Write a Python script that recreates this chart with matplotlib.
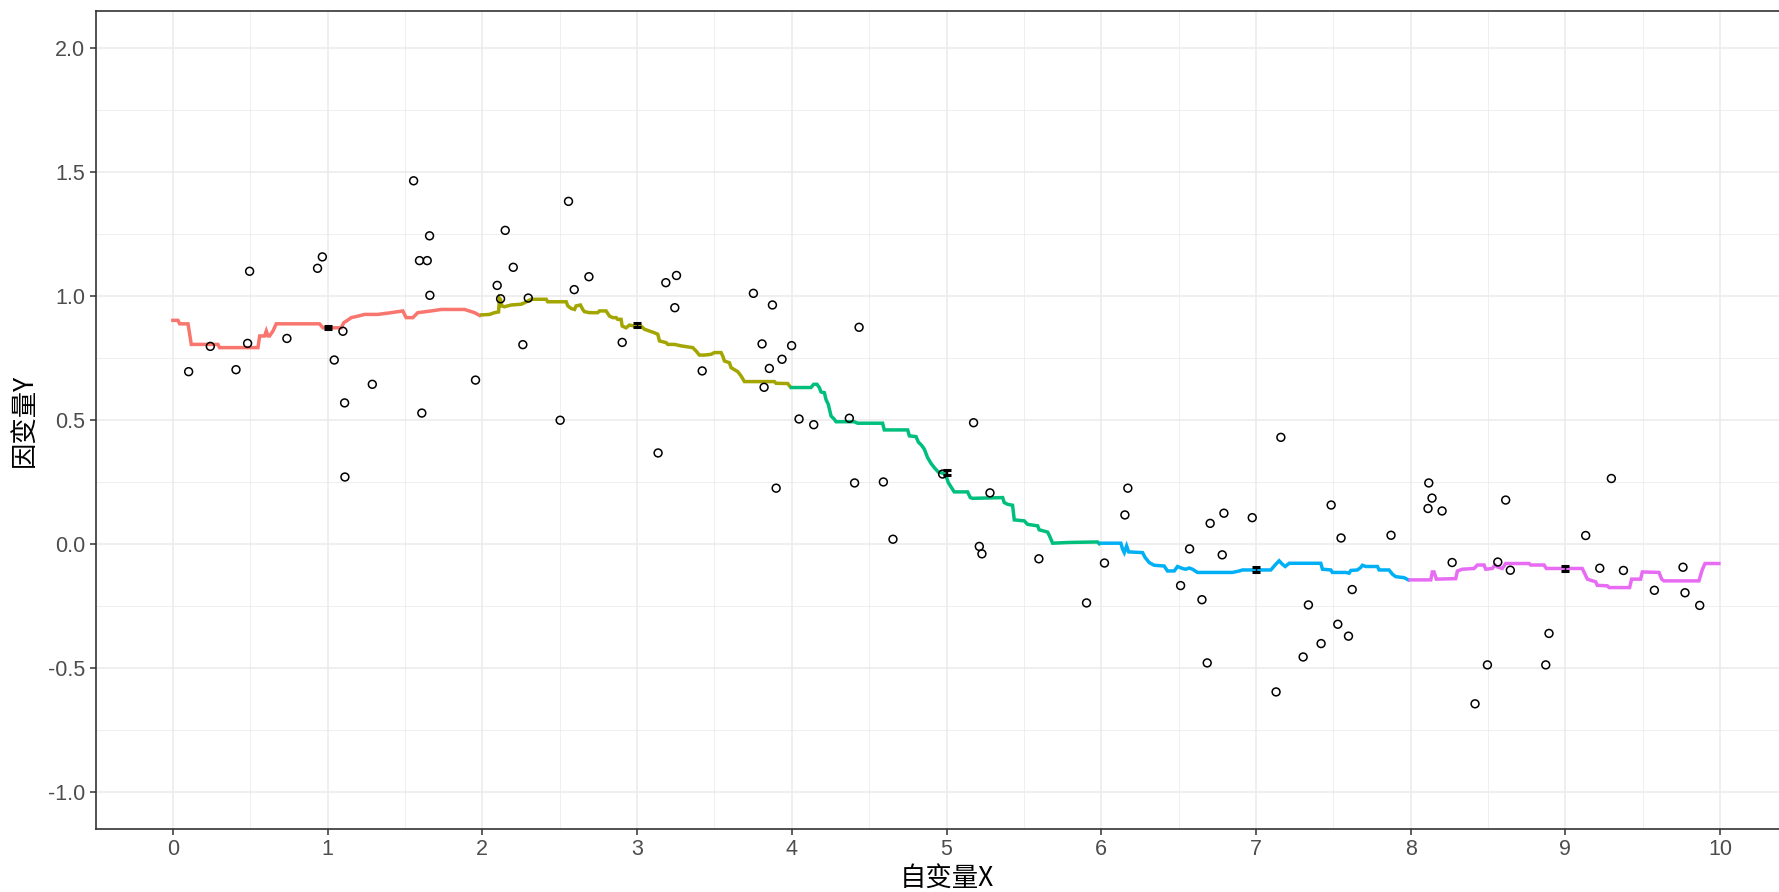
import numpy as np
import matplotlib.pyplot as plt

# ─────────────────────────────────────────────
# DATA
# ─────────────────────────────────────────────
pts_x = [0.102, 0.242, 0.408, 0.496, 0.483, 0.737, 0.935, 0.966, 1.099, 1.043,
         1.289, 1.110, 1.112, 1.609, 1.659, 1.594, 1.644, 1.661, 1.956, 1.556,
         2.148, 2.096, 2.118, 2.200, 2.297, 2.262, 2.557, 2.594, 2.689, 2.503,
         2.904, 3.136, 3.186, 3.255, 3.244, 3.421, 3.752, 3.875, 3.808, 3.855,
         3.821, 3.937, 3.999, 3.899,
         4.435, 4.047, 4.142, 4.372, 4.406, 4.592, 4.654, 5.175, 4.975, 5.281,
         5.212, 5.229, 5.597, 5.905,
         6.021, 6.172, 6.153, 6.571, 6.513, 6.651, 6.704, 6.793, 6.782, 6.976,
         7.161, 6.685, 7.130, 7.305, 7.339, 7.421, 7.486, 7.529, 7.550, 7.598,
         7.622, 7.873,
         8.117, 8.138, 8.112, 8.203, 8.268, 8.496, 8.614, 8.563, 8.644, 8.873,
         8.894, 8.416, 9.297, 9.131, 9.222, 9.375, 9.575, 9.760, 9.773, 9.868]
pts_y = [0.695, 0.797, 0.703, 1.100, 0.809, 0.829, 1.112, 1.158, 0.858, 0.742,
         0.644, 0.569, 0.270, 0.528, 1.243, 1.143, 1.143, 1.003, 0.661, 1.465,
         1.265, 1.043, 0.989, 1.116, 0.992, 0.804, 1.382, 1.026, 1.078, 0.499,
         0.813, 0.367, 1.054, 1.083, 0.953, 0.698, 1.011, 0.964, 0.807, 0.708,
         0.632, 0.745, 0.800, 0.225,
         0.874, 0.504, 0.481, 0.507, 0.246, 0.250, 0.019, 0.489, 0.282, 0.206,
         -0.010, -0.040, -0.060, -0.238,
         -0.077, 0.225, 0.117, -0.020, -0.168, -0.225, 0.083, 0.124, -0.044, 0.106,
         0.430, -0.480, -0.597, -0.456, -0.246, -0.402, 0.157, -0.324, 0.024, -0.372,
         -0.184, 0.035,
         0.246, 0.185, 0.143, 0.133, -0.075, -0.488, 0.177, -0.073, -0.106, -0.488,
         -0.361, -0.645, 0.264, 0.034, -0.098, -0.107, -0.187, -0.094, -0.197, -0.248]

# fitted step curve, one piece per interval
seg1_x = [0.000, 0.033, 0.044, 0.098, 0.119, 0.227, 0.291, 0.302, 0.550, 0.561,
          0.593, 0.604, 0.615, 0.625, 0.647, 0.668, 0.948, 0.970, 1.088, 1.105,
          1.121, 1.153, 1.196, 1.239, 1.325, 1.411, 1.486, 1.508, 1.551, 1.583,
          1.670, 1.734, 1.885, 1.950, 1.982]
seg1_y = [0.902, 0.902, 0.888, 0.888, 0.805, 0.805, 0.805, 0.792, 0.792, 0.839,
          0.839, 0.859, 0.839, 0.839, 0.859, 0.888, 0.888, 0.872, 0.872, 0.893,
          0.899, 0.913, 0.919, 0.926, 0.926, 0.933, 0.940, 0.913, 0.913, 0.933,
          0.940, 0.946, 0.946, 0.933, 0.922]

seg2_x = [1.997, 2.047, 2.079, 2.105, 2.111, 2.118, 2.126, 2.143, 2.187, 2.251,
          2.273, 2.294, 2.316, 2.413, 2.423, 2.542, 2.553, 2.574, 2.596, 2.606,
          2.634, 2.649, 2.660, 2.693, 2.746, 2.757, 2.800, 2.822, 2.843, 2.865,
          2.875, 2.897, 2.904, 2.929, 2.951, 2.983, 3.026, 3.048, 3.080, 3.112,
          3.134, 3.145, 3.188, 3.199, 3.242, 3.285, 3.360, 3.382, 3.403, 3.436,
          3.479, 3.500, 3.543, 3.554, 3.565, 3.597, 3.608, 3.651, 3.672, 3.694,
          3.888, 3.898, 3.974, 3.991]
seg2_y = [0.924, 0.926, 0.933, 0.936, 0.991, 0.985, 0.960, 0.957, 0.964, 0.967,
          0.973, 0.980, 0.987, 0.987, 0.977, 0.977, 0.960, 0.950, 0.946, 0.960,
          0.964, 0.946, 0.937, 0.933, 0.933, 0.940, 0.940, 0.919, 0.913, 0.913,
          0.906, 0.906, 0.879, 0.872, 0.883, 0.879, 0.879, 0.866, 0.859, 0.852,
          0.846, 0.819, 0.812, 0.805, 0.805, 0.799, 0.792, 0.778, 0.762, 0.762,
          0.765, 0.772, 0.772, 0.758, 0.738, 0.731, 0.711, 0.695, 0.678, 0.655,
          0.655, 0.648, 0.647, 0.633]

seg3_x = [3.999, 4.124, 4.142, 4.163, 4.178, 4.189, 4.211, 4.221, 4.236, 4.254,
          4.275, 4.286, 4.404, 4.426, 4.587, 4.598, 4.749, 4.760, 4.803, 4.818,
          4.839, 4.857, 4.878, 4.900, 4.921, 4.947, 4.981, 4.997, 5.012, 5.050,
          5.136, 5.154, 5.169, 5.363, 5.373, 5.395, 5.427, 5.438, 5.503, 5.524,
          5.589, 5.599, 5.653, 5.664, 5.686, 5.793, 5.976, 5.987]
seg3_y = [0.631, 0.631, 0.644, 0.644, 0.631, 0.613, 0.610, 0.583, 0.563, 0.516,
          0.503, 0.493, 0.493, 0.487, 0.487, 0.460, 0.460, 0.436, 0.433, 0.411,
          0.398, 0.382, 0.348, 0.325, 0.308, 0.290, 0.285, 0.274, 0.247, 0.210,
          0.210, 0.187, 0.184, 0.187, 0.167, 0.160, 0.156, 0.097, 0.093, 0.079,
          0.073, 0.057, 0.048, 0.035, 0.003, 0.006, 0.008, 0.001]

seg4_x = [5.998, 6.127, 6.138, 6.149, 6.164, 6.177, 6.267, 6.284, 6.310, 6.342,
          6.407, 6.428, 6.472, 6.493, 6.525, 6.547, 6.568, 6.590, 6.622, 6.848,
          6.892, 6.913, 7.096, 7.128, 7.150, 7.171, 7.189, 7.215, 7.419, 7.430,
          7.484, 7.494, 7.581, 7.602, 7.613, 7.656, 7.677, 7.688, 7.710, 7.785,
          7.796, 7.860, 7.882, 7.903, 7.957, 7.985]
seg4_y = [0.003, 0.003, -0.021, -0.035, -0.008, -0.032, -0.035, -0.055, -0.075, -0.086,
          -0.089, -0.109, -0.109, -0.091, -0.099, -0.102, -0.097, -0.102, -0.115, -0.115,
          -0.109, -0.105, -0.105, -0.082, -0.068, -0.082, -0.091, -0.078, -0.078, -0.102,
          -0.105, -0.115, -0.115, -0.118, -0.107, -0.105, -0.095, -0.086, -0.091, -0.091,
          -0.105, -0.105, -0.122, -0.132, -0.136, -0.145]

seg5_x = [7.996, 8.130, 8.140, 8.151, 8.166, 8.291, 8.302, 8.334, 8.410, 8.431,
          8.474, 8.485, 8.528, 8.545, 8.560, 8.592, 8.614, 8.765, 8.776, 8.862,
          8.877, 9.109, 9.142, 9.196, 9.206, 9.271, 9.282, 9.415, 9.428, 9.486,
          9.497, 9.605, 9.622, 9.637, 9.863, 9.884, 9.902, 9.992]
seg5_y = [-0.145, -0.145, -0.113, -0.113, -0.142, -0.140, -0.109, -0.102, -0.099, -0.085,
          -0.085, -0.102, -0.099, -0.085, -0.093, -0.099, -0.079, -0.079, -0.085, -0.085,
          -0.099, -0.099, -0.142, -0.153, -0.167, -0.169, -0.176, -0.176, -0.142, -0.142,
          -0.113, -0.115, -0.142, -0.149, -0.149, -0.105, -0.079, -0.079]

# small black bars at the interval midpoints
mid_x = [1, 3, 5, 7, 9]
mid_y = [0.872, 0.882, 0.288, -0.103, -0.099]
mid_err = [0.006, 0.008, 0.010, 0.009, 0.011]

seg_colors = ['#F8766D', '#A3A500', '#00BF7D', '#00B0F6', '#E76BF3']

x_ticks = [0, 1, 2, 3, 4, 5, 6, 7, 8, 9, 10]
x_labels = ['0', '1', '2', '3', '4', '5', '6', '7', '8', '9', '10']
x_minor = [0.5, 1.5, 2.5, 3.5, 4.5, 5.5, 6.5, 7.5, 8.5, 9.5]
y_ticks = [-1.0, -0.5, 0.0, 0.5, 1.0, 1.5, 2.0]
y_labels = ['-1.0', '-0.5', '0.0', '0.5', '1.0', '1.5', '2.0']
y_minor = [-0.75, -0.25, 0.25, 0.75, 1.25, 1.75]

# ─────────────────────────────────────────────
# PLOT
# ─────────────────────────────────────────────
plt.rcParams['font.family'] = ['Liberation Sans', 'DejaVu Sans']

fig = plt.figure(figsize=(17.79, 8.92), dpi=100)
# panel runs past the right edge, as in the reference
ax = fig.add_axes([95.5 / 1779, 63 / 892, 1702 / 1779, 818 / 892])

segs = [(seg1_x, seg1_y), (seg2_x, seg2_y), (seg3_x, seg3_y),
        (seg4_x, seg4_y), (seg5_x, seg5_y)]
for (sx, sy), c in zip(segs, seg_colors):
    ax.plot(sx, sy, color=c, lw=2.5, solid_joinstyle='miter', zorder=3)

ax.scatter(pts_x, pts_y, s=32, facecolors='none', edgecolors='black',
           linewidths=1.1, zorder=4)

ax.errorbar(mid_x, mid_y, yerr=mid_err, fmt='none', ecolor='black',
            elinewidth=1.0, capsize=2.6, capthick=2.2, zorder=5)

ax.set_xlim(-0.5, 10.5)
ax.set_ylim(-1.15, 2.15)

ax.set_xticks(x_ticks)
ax.set_xticklabels(x_labels)
ax.set_yticks(y_ticks)
ax.set_yticklabels(y_labels)
ax.set_xticks(x_minor, minor=True)
ax.set_yticks(y_minor, minor=True)

ax.tick_params(which='major', length=4.5, width=1.1, color='#333333',
               labelcolor='#4D4D4D', labelsize=15.5, pad=3)
ax.tick_params(which='minor', length=0)

ax.grid(which='major', color='#EBEBEB', lw=1.1)
ax.grid(which='minor', color='#EBEBEB', lw=0.55)
ax.set_axisbelow(True)

for sp in ax.spines.values():
    sp.set_color('#333333')
    sp.set_linewidth(1.2)

cjk = ['Noto Sans CJK SC', 'DejaVu Sans']
ax.set_xlabel('自变量X', family=cjk, fontsize=19, color='black', labelpad=3)
ax.set_ylabel('因变量Y', family=cjk, fontsize=19, color='black', labelpad=7)

fig.savefig('out.png', dpi=100)
